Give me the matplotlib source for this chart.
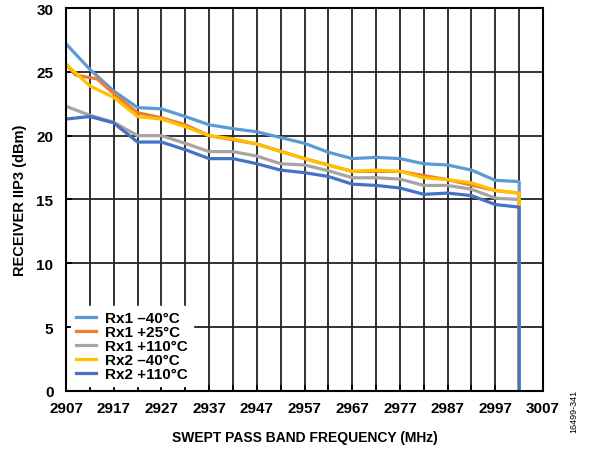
import matplotlib
matplotlib.use("Agg")
from matplotlib import pyplot as plt
from matplotlib.ticker import MultipleLocator

plt.rcParams['font.family'] = ['Liberation Sans', 'DejaVu Sans']
plt.rcParams['font.weight'] = 'bold'

# frequencies (MHz), last point repeated where the traces fall to zero
freq = [2907, 2912, 2917, 2922, 2927, 2932, 2937, 2942, 2947, 2952,
        2957, 2962, 2967, 2972, 2977, 2982, 2987, 2992, 2997, 3002, 3002]

rx1_m40 = [27.2, 25.2, 23.5, 22.2, 22.1, 21.5, 20.85, 20.55, 20.3, 19.85,
           19.4, 18.7, 18.2, 18.3, 18.2, 17.8, 17.7, 17.3, 16.5, 16.4, 0]
rx1_110 = [22.3, 21.6, 21.05, 20.0, 20.0, 19.4, 18.75, 18.75, 18.4, 17.8,
           17.7, 17.25, 16.7, 16.7, 16.6, 16.1, 16.1, 15.8, 15.1, 15.0, 0]
rx2_m40 = [25.6, 23.9, 23.0, 21.5, 21.3, 20.7, 20.0, 19.75, 19.35, 18.75,
           18.2, 17.7, 17.2, 17.3, 17.2, 16.7, 16.55, 16.3, 15.7, 15.5, 0]
rx2_110 = [21.3, 21.5, 21.0, 19.5, 19.5, 18.9, 18.2, 18.2, 17.8, 17.3,
           17.1, 16.8, 16.2, 16.1, 15.9, 15.4, 15.5, 15.3, 14.6, 14.4, 0]

# +25C trace is mostly hidden under the Rx2 -40C trace
freq_25 = [2907, 2909, 2913.5, 2917, 2922, 2927, 2932, 2937, 2947, 2957,
           2967, 2977, 2987, 2997, 3002, 3002]
rx1_25 = [25.6, 24.75, 24.45, 23.3, 21.8, 21.4, 20.85, 20.0, 19.35, 18.2,
          17.2, 17.2, 16.55, 15.7, 15.5, 0]

xticks = list(range(2907, 3008, 10))
xminor = list(range(2907, 3008, 5))

series = [
    (freq, rx1_m40, "Rx1 \u201340\u00b0C", "#5B9BD5"),
    (freq_25, rx1_25, "Rx1 +25\u00b0C", "#ED7D31"),
    (freq, rx1_110, "Rx1 +110\u00b0C", "#A5A5A5"),
    (freq, rx2_m40, "Rx2 \u201340\u00b0C", "#FFC000"),
    (freq, rx2_110, "Rx2 +110\u00b0C", "#4472C4"),
]

fig = plt.figure(figsize=(5.89, 4.52), dpi=100)
ax = fig.add_axes([0.112, 0.133, 0.810, 0.847])

for x, y, lab, col in series:
    ax.plot(x, y, color=col, lw=2.3, label=lab, solid_joinstyle='round')

ax.set_xlim(2907, 3007)
ax.set_ylim(0, 30)
ax.set_xticks(xticks)
ax.set_xticks(xminor, minor=True)
ax.yaxis.set_major_locator(MultipleLocator(5))
ax.grid(True, which='both', color='#222222', lw=1.3)
ax.set_axisbelow(True)
ax.tick_params(which='both', direction='in', length=4, width=1.3,
               labelsize=11)
ax.tick_params(axis='x', pad=7)
ax.tick_params(axis='y', pad=9)
for s in ax.spines.values():
    s.set_linewidth(1.5)
    s.set_color('black')

ax.set_xlabel("SWEPT PASS BAND FREQUENCY (MHz)", fontsize=10,
              fontweight='bold', labelpad=11)
ax.set_ylabel("RECEIVER IIP3 (dBm)", fontsize=10.5, fontweight='bold',
              labelpad=7)

leg = ax.legend(loc='lower left', bbox_to_anchor=(0.0, 0.0), fontsize=11,
                frameon=True, handlelength=1.3, labelspacing=0.0,
                handletextpad=0.6, borderpad=0.35, borderaxespad=0.3)
leg.get_frame().set_edgecolor('white')
leg.get_frame().set_alpha(1)

fig.text(0.975, 0.09, "16499-341", rotation=90, fontsize=6.5,
         fontweight='normal', ha='center', va='center')

fig.savefig("out.png", dpi=100)
